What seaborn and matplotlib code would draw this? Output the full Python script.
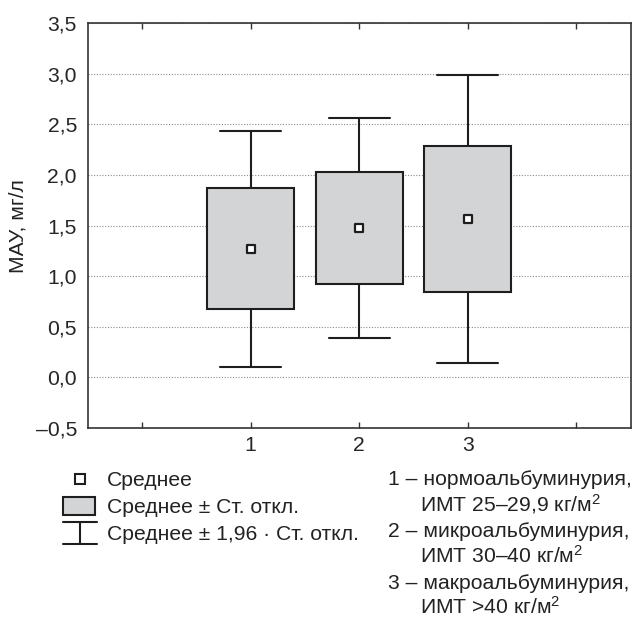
"""Box-whisker chart: MAU by albuminuria group (mean, SD, 1.96 SD)."""

import matplotlib
matplotlib.use("Agg")
import matplotlib.pyplot as plt
import numpy as np
import pandas as pd
import seaborn as sns
from matplotlib.lines import Line2D
from matplotlib.patches import Rectangle
from matplotlib.ticker import FuncFormatter, MultipleLocator

# data
groups = ["1", "2", "3"]
means = [1.27, 1.475, 1.565]
sds = [0.596, 0.553, 0.725]
group_text = [
    ("1 – нормоальбуминурия,", "ИМТ 25–29,9 кг/м$^2$"),
    ("2 – микроальбуминурия,", "ИМТ 30–40 кг/м$^2$"),
    ("3 – макроальбуминурия,", "ИМТ >40 кг/м$^2$"),
]
legend_text = ["Среднее", "Среднее ± Ст. откл.", "Среднее ± 1,96 · Ст. откл."]
ylabel = "МАУ, мг/л"

W, H = 632, 617
DARK = "#1e1e1e"
FILL = "#d3d4d6"
FS = 15.2

sns.set_style("white")
plt.rcParams["font.family"] = ["Liberation Sans", "DejaVu Sans"]
plt.rcParams["mathtext.fontset"] = "custom"
plt.rcParams["mathtext.rm"] = "Liberation Sans"
plt.rcParams["mathtext.it"] = "Liberation Sans"
plt.rcParams["text.color"] = "#222222"

df = pd.DataFrame({"group": groups, "mean": means, "sd": sds})
df["pos"] = np.arange(1, len(df) + 1)

fig = plt.figure(figsize=(W / 100, H / 100), dpi=100)
ax = fig.add_axes([88 / W, 1 - 428 / H, (630.5 - 88) / W, (428 - 23) / H])

stats = []
for _, r in df.iterrows():
    stats.append({
        "med": r["mean"],
        "q1": r["mean"] - r["sd"],
        "q3": r["mean"] + r["sd"],
        "whislo": r["mean"] - 1.96 * r["sd"],
        "whishi": r["mean"] + 1.96 * r["sd"],
        "fliers": [],
        "label": r["group"],
    })

line_kw = dict(color=DARK, linewidth=1.5)
ax.bxp(stats, positions=df["pos"], widths=0.8, capwidths=0.56,
       patch_artist=True, showfliers=False, manage_ticks=False,
       boxprops=dict(facecolor=FILL, edgecolor=DARK, linewidth=1.5),
       whiskerprops=line_kw, capprops=line_kw,
       medianprops=dict(linewidth=0), zorder=3)

sns.scatterplot(data=df, x="pos", y="mean", marker="s", s=40, color="white",
                edgecolor=DARK, linewidth=1.6, ax=ax, zorder=5, legend=False)

ax.set_xlim(-0.5, 4.5)
ax.set_ylim(-0.5, 3.5)
ax.set_xticks(range(0, 5))
ax.set_xticklabels([""] + groups + [""])
ax.yaxis.set_major_locator(MultipleLocator(0.5))
ax.yaxis.set_major_formatter(
    FuncFormatter(lambda v, p: f"{v:.1f}".replace(".", ",").replace("-", "–")))
ax.grid(axis="y", linestyle=(0, (1, 1.5)), color="#8c8c8c", linewidth=0.8)
ax.grid(axis="x", visible=False)
ax.set_axisbelow(True)

for s in ax.spines.values():
    s.set_visible(True)
    s.set_color("#333333")
    s.set_linewidth(1.2)

ax.tick_params(axis="x", direction="in", top=True, bottom=True, length=4,
               width=1, color="#333333", pad=6, labelsize=FS)
ax.tick_params(axis="y", length=0, pad=8, labelsize=FS)
ax.set_xlabel("")
ax.set_ylabel("")


def fx(px):
    return px / W


def fy(py):
    return 1 - py / H


fig.text(fx(18), fy(226), ylabel, fontsize=FS, rotation=90,
         ha="center", va="center")

# legend (left block)
fig.add_artist(Line2D([fx(80)], [fy(479)], marker="s", markersize=6.5,
                      markerfacecolor="white", markeredgecolor=DARK,
                      markeredgewidth=1.5, transform=fig.transFigure))
fig.add_artist(Rectangle((fx(63), fy(515)), fx(95) - fx(63), fy(497) - fy(515),
                         facecolor=FILL, edgecolor=DARK, linewidth=1.5,
                         transform=fig.transFigure))
for yy in (522, 544):
    fig.add_artist(Line2D([fx(63), fx(97)], [fy(yy), fy(yy)], color=DARK,
                          linewidth=1.5, transform=fig.transFigure))
fig.add_artist(Line2D([fx(80), fx(80)], [fy(522), fy(544)], color=DARK,
                      linewidth=1.5, transform=fig.transFigure))

for txt, base in zip(legend_text, (486, 513, 540)):
    fig.text(fx(107), fy(base), txt, fontsize=FS, va="baseline")

# group descriptions (right block)
bases = [485, 511, 537, 563, 589, 614]
for i, (first, second) in enumerate(group_text):
    fig.text(fx(388), fy(bases[2 * i]), first, fontsize=FS, va="baseline")
    fig.text(fx(420), fy(bases[2 * i + 1]), second, fontsize=FS, va="baseline")

fig.savefig("out.png", dpi=100)
